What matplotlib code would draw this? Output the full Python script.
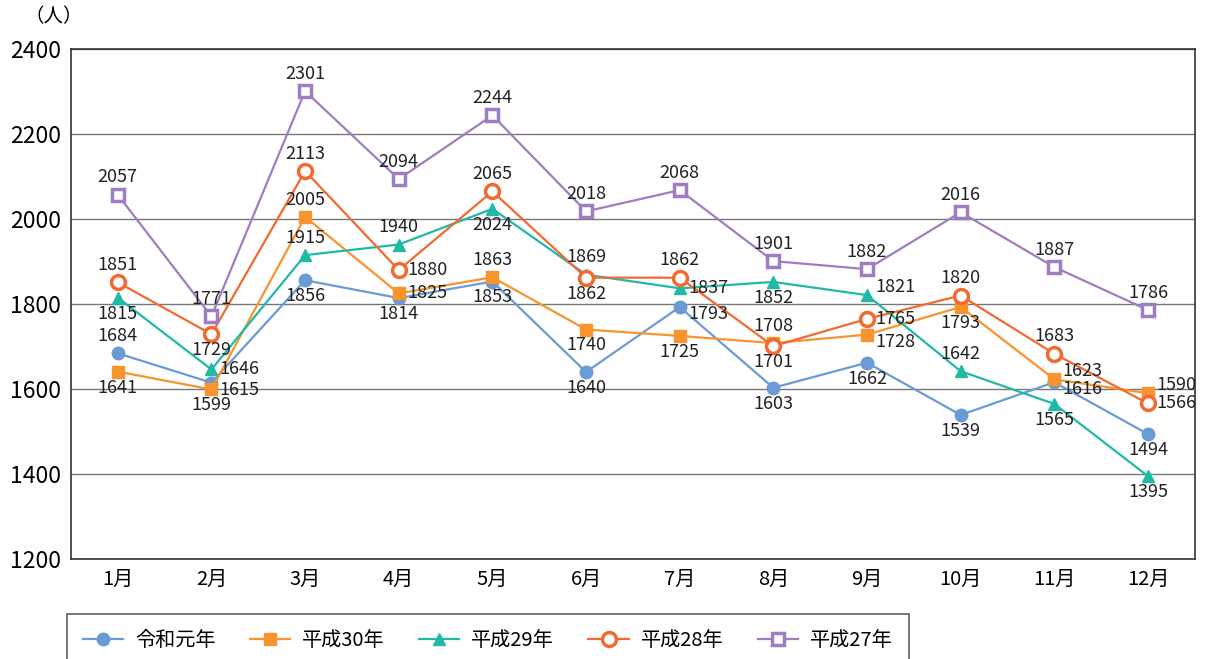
import matplotlib.pyplot as plt

plt.rcParams['font.family'] = ['Noto Sans CJK JP', 'DejaVu Sans']

months = ['1月', '2月', '3月', '4月', '5月', '6月', '7月', '8月', '9月', '10月', '11月', '12月']

r1 = [1684, 1615, 1856, 1814, 1853, 1640, 1793, 1603, 1662, 1539, 1616, 1494]
h30 = [1641, 1599, 2005, 1825, 1863, 1740, 1725, 1708, 1728, 1793, 1623, 1590]
h29 = [1815, 1646, 1915, 1940, 2024, 1869, 1837, 1852, 1821, 1642, 1565, 1395]
h28 = [1851, 1729, 2113, 1880, 2065, 1862, 1862, 1701, 1765, 1820, 1683, 1566]
h27 = [2057, 1771, 2301, 2094, 2244, 2018, 2068, 1901, 1882, 2016, 1887, 1786]

# label placement: a = above, b = below, r = right, ra/rb = right up/down
pos_r1 = ['a', 'rb', 'b', 'b', 'b', 'b', 'rb', 'b', 'b', 'b', 'rb', 'b']
pos_h30 = ['b', 'b', 'a', 'r', 'a', 'b', 'b', 'a', 'rb', 'b', 'ra', 'ra']
pos_h29 = ['b', 'r', 'a', 'a', 'b', 'a', 'r', 'b', 'ra', 'a', 'b', 'b']
pos_h28 = ['a', 'b', 'a', 'r', 'a', 'b', 'a', 'b', 'r', 'a', 'a', 'r']
pos_h27 = ['a'] * 12

series = [
    ('令和元年', r1, pos_r1, dict(color='#6A9BD4', marker='o', ms=9, mfc='#6A9BD4', mec='#6A9BD4')),
    ('平成30年', h30, pos_h30, dict(color='#F7942E', marker='s', ms=8.5, mfc='#F7942E', mec='#F7942E')),
    ('平成29年', h29, pos_h29, dict(color='#20B9A6', marker='^', ms=9, mfc='#20B9A6', mec='#20B9A6')),
    ('平成28年', h28, pos_h28, dict(color='#F26A30', marker='o', ms=10, mfc='white', mec='#F26A30', mew=2.5)),
    ('平成27年', h27, pos_h27, dict(color='#A07CC0', marker='s', ms=9, mfc='white', mec='#A07CC0', mew=2.5)),
]

offsets = {'a': ((0, 6), 'center', 'bottom'),
           'b': ((0, -5), 'center', 'top'),
           'r': ((6, 0), 'left', 'center'),
           'ra': ((6, 6), 'left', 'center'),
           'rb': ((6, -5), 'left', 'center')}

fig = plt.figure(figsize=(12.11, 6.59), dpi=100)
ax = fig.add_axes([0.0586, 0.1517, 0.928, 0.7739])

x = list(range(len(months)))
for name, vals, pos, style in series:
    ax.plot(x, vals, lw=1.6, label=name, **style)
    for xi, v, p in zip(x, vals, pos):
        off, ha, va = offsets[p]
        ax.annotate(str(v), (xi, v), xytext=off, textcoords='offset points',
                    ha=ha, va=va, fontsize=13, color='#222222')

ax.set_xlim(-0.5, 11.5)
ax.set_ylim(1200, 2400)
ax.set_yticks(range(1200, 2401, 200))
ax.set_xticks(x)
ax.set_xticklabels(months)
ax.tick_params(axis='y', labelsize=16.5, length=0, pad=7)
ax.tick_params(axis='x', labelsize=14.5, length=0, pad=7)
ax.grid(axis='y', color='#777777', lw=1)
ax.set_axisbelow(True)
for s in ax.spines.values():
    s.set_color('#333333')
    s.set_linewidth(1.2)

fig.text(0.02, 0.975, '（人）', fontsize=14, ha='left', va='center')

leg = fig.legend(loc='upper left', bbox_to_anchor=(0.055, 0.068), ncol=5,
                 fontsize=14.5, frameon=True, fancybox=False, edgecolor='#333333',
                 borderpad=0.8, borderaxespad=0, handlelength=2.0,
                 handletextpad=0.6, columnspacing=1.7)
leg.get_frame().set_linewidth(1.2)

fig.savefig('out.png', dpi=100)
